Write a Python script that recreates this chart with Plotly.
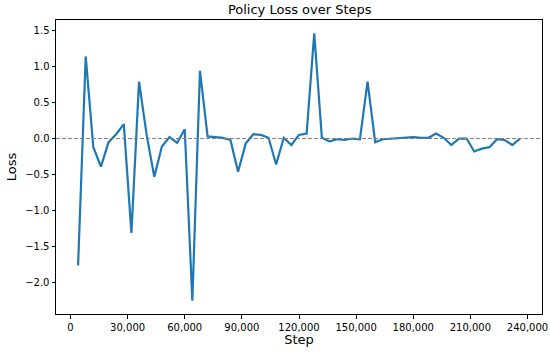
import plotly.graph_objects as go

steps = [4000 * i for i in range(1, 60)]
loss = [
    -1.76, 1.14, -0.12, -0.39, -0.05, 0.06, 0.20, -1.31, 0.79, 0.05,
    -0.53, -0.11, 0.02, -0.06, 0.13, -2.25, 0.94, 0.03, 0.02, 0.01,
    -0.02, -0.46, -0.07, 0.06, 0.05, 0.01, -0.36, 0.01, -0.09, 0.05,
    0.07, 1.46, 0.01, -0.04, -0.01, -0.02, 0.00, -0.01, 0.79, -0.05,
    -0.01, 0.00, 0.00, 0.01, 0.02, 0.01, 0.01, 0.07, 0.01, -0.09,
    0.00, 0.00, -0.18, -0.14, -0.12, -0.01, -0.02, -0.09, 0.00,
]
x_ticks = [0, 30000, 60000, 90000, 120000, 150000, 180000, 210000, 240000]
y_ticks = [-2.0, -1.5, -1.0, -0.5, 0.0, 0.5, 1.0, 1.5]

font = "DejaVu Sans, Arial, sans-serif"

fig = go.Figure()
fig.add_trace(go.Scatter(
    x=steps, y=loss, mode="lines",
    line=dict(color="#1f77b4", width=2.2),
    showlegend=False,
))
fig.add_hline(y=0, line=dict(color="#7f7f7f", width=1, dash="4px,2px"))

xmin, xmax = min(steps), max(steps)
ymin, ymax = min(loss), max(loss)
xpad = (xmax - xmin) * 0.05
ypad = (ymax - ymin) * 0.05

axis_common = dict(
    showgrid=False, zeroline=False, showline=True, mirror=True,
    linecolor="black", linewidth=1, ticks="outside", ticklen=3.5,
    tickcolor="black", tickwidth=1, automargin=False,
    tickfont=dict(family=font, size=10, color="black"),
)
fig.update_xaxes(
    range=[xmin - xpad, xmax + xpad], tickvals=x_ticks, tickformat=",",
    title=dict(text="Step", font=dict(family=font, size=13, color="black"), standoff=2),
    **axis_common,
)
fig.update_yaxes(
    range=[ymin - ypad, ymax + ypad], tickvals=y_ticks, tickformat=".1f",
    title=dict(text="Loss", font=dict(family=font, size=13, color="black"), standoff=5),
    **axis_common,
)
fig.update_layout(
    width=550, height=359,
    margin=dict(l=56, r=8, t=20, b=45),
    paper_bgcolor="white", plot_bgcolor="white",
    title=dict(text="Policy Loss over Steps", x=0.545, xanchor="center",
               y=0.975, yanchor="middle",
               font=dict(family=font, size=13, color="black")),
)
fig.write_html(
    "out.html",
    config={"displayModeBar": False},
    post_script="document.body.style.margin='0';document.body.style.padding='0';",
)
